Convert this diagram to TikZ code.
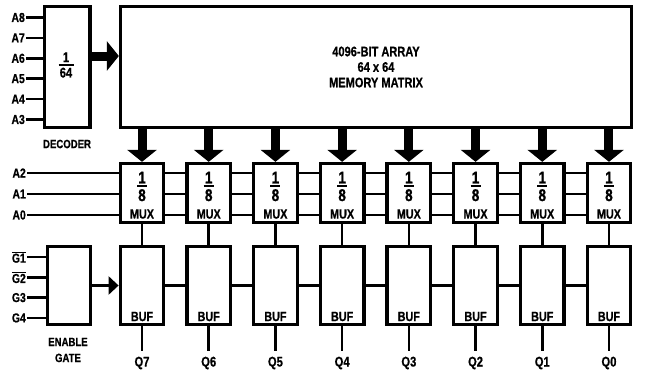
\documentclass[tikz,border=0pt]{standalone}
\usepackage{amsmath}
\usepackage{fontspec}
\setmainfont[FakeStretch=0.8,FakeBold=0.7]{Liberation Sans}
\usepackage{tikz}
\usetikzlibrary{calc,arrows.meta}

% stacked fraction: top, bottom, bar width
\newcommand\frc[3]{\vbox{\offinterlineskip\hbox to #3{\hfil#1\hfil}\kern2pt
  \hrule height1.7pt\kern2pt\hbox to #3{\hfil#2\hfil}}}

\begin{document}
\begin{tikzpicture}[x=1pt,y=-1pt,font=\bfseries]

\def\boxline{3.3pt}
\def\wline{2.6pt}
\def\muxpitch{66.71}

\tikzset{
blk/.style={draw,line width=\boxline,fill=white,inner sep=0pt},
pin/.style={inner sep=1pt,font=\bfseries\fontsize{13}{14}\selectfont},
blabel/.style={align=center,font=\bfseries\fontsize{12}{16}\selectfont},
inbox/.style={inner sep=0pt,font=\bfseries\fontsize{13.5}{15}\selectfont},
num/.style={inner sep=0pt,font=\bfseries\fontsize{17}{18}\selectfont},
wire/.style={line width=\wline},
fat/.style={line width=9pt,-{Triangle[width=29pt,length=12pt]}},
thin/.style={line width=\wline,-{Triangle[width=18pt,length=10pt]}}
}

\useasboundingbox (0,0) rectangle (650,372);

% decoder and matrix
\node[blk,minimum width=45.5pt,minimum height=121pt] (DEC) at (67.25,67) {};
\node[blk,minimum width=511pt,minimum height=121pt,align=center,
  font=\bfseries\fontsize{13.8}{15.5}\selectfont] (MAT) at (376,67)
  {4096-BIT ARRAY\\64 x 64\\MEMORY MATRIX};
\node[num,font=\bfseries\fontsize{14}{15}\selectfont] (frac) at (66,65) {\frc{1}{64}{15pt}};
\node[blabel] (declab) at (67,144) {DECODER};

\draw[fat] ($(DEC.east)+(0,-11)$) -- ($(MAT.west)+(0,-11)$);

\foreach \n [count=\i from 0] in {8,7,6,5,4,3}
{
\node[pin,anchor=east] (a\n) at (26,17.5+20.4*\i) {A\n};
\draw[wire] (a\n.east) -- (a\n -| DEC.west);
}

% enable gate
\node[blk,minimum width=43.5pt,minimum height=78pt] (ENG) at (69,285.5) {};
\node[blabel] (englab) at (68,350) {ENABLE\\GATE};

\foreach \t [count=\i from 0] in {{$\overline{\hbox{G1}}$},{$\overline{\hbox{G2}}$},G3,G4}
{
\node[pin,anchor=east] (g\i) at (27,257+20.3*\i) {\t};
\draw[wire] (g\i.east) -- (g\i -| ENG.west);
}

% mux and buffer columns
\foreach \k in {0,...,7}
{
\pgfmathsetmacro\xx{142+\muxpitch*\k}
\pgfmathtruncatemacro\q{7-\k}
\node[blk,minimum width=43.5pt,minimum height=59pt] (M\k) at (\xx,193) {};
\node[blk,minimum width=43.5pt,minimum height=78pt] (B\k) at (\xx,285.5) {};
\node[num] (F\k) at ($(M\k)+(0,-6.5)$) {\frc{1}{8}{10pt}};
\node[inbox] (X\k) at ($(M\k)+(0,21)$) {MUX};
\node[inbox] (U\k) at ($(B\k)+(0,31)$) {BUF};
\node[pin,font=\bfseries\fontsize{14}{15}\selectfont] (Q\k) at (\xx,363) {Q\q};
\draw[fat] (MAT.south -| M\k) -- (M\k.north);
\draw[wire] (M\k.south) -- (B\k.north);
\draw[wire,shorten >=5pt] (B\k.south) -- (Q\k.north);
}

% address lines through the muxes
\foreach \n [count=\i from 0] in {2,1,0}
{
\node[pin,anchor=east] (a\n) at (27,173+21*\i) {A\n};
\draw[wire] (a\n.east) -- (a\n -| M0.west);
}
\foreach \k in {0,...,6}
{
\pgfmathtruncatemacro\m{\k+1}
\foreach \n in {2,1,0}
{
\draw[wire] (M\k.east |- a\n) -- (M\m.west |- a\n);
}
\draw[wire] (B\k.east) -- (B\m.west);
}

\draw[thin] (ENG.east) -- (B0.west);

\end{tikzpicture}
\end{document}
